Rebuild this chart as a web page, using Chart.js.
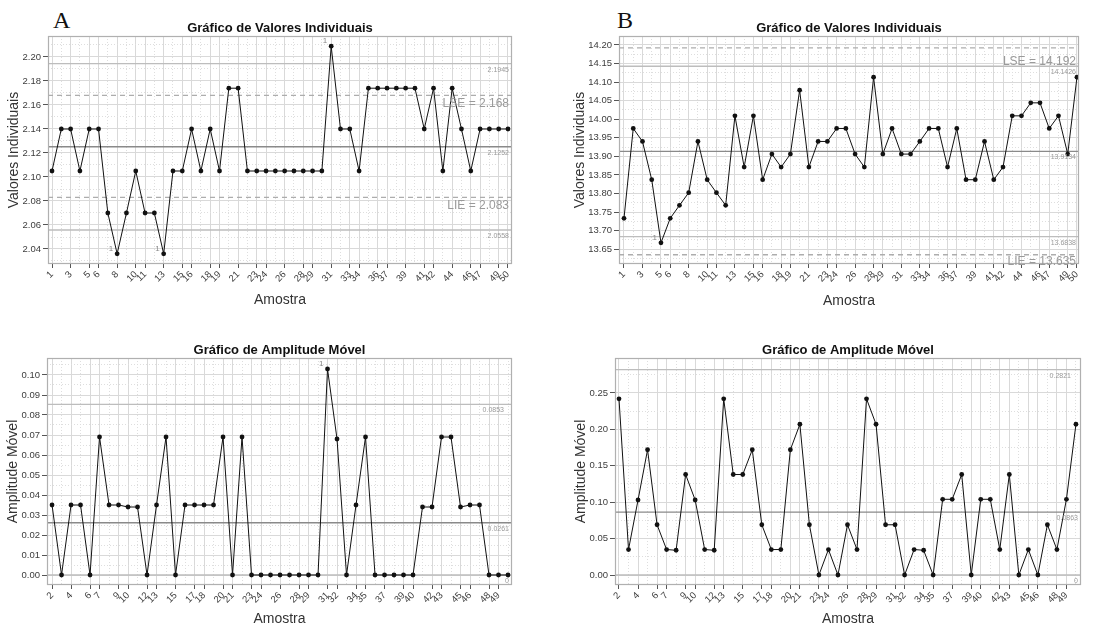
<!DOCTYPE html>
<html lang="pt">
<head>
<meta charset="utf-8">
<title>Gráficos de controle</title>
<script src="https://cdn.jsdelivr.net/npm/chart.js@4.4.1/dist/chart.umd.min.js"></script>
<style>
	body { margin: 0; background: #fff; width: 1119px; height: 628px; position: relative; overflow: hidden; }
	canvas { position: absolute; }
	.panel-letter { position: absolute; font-family: 'Liberation Serif', serif; font-size: 24px; color: #111; line-height: normal; }
</style>
</head>
<body>
<div class="panel-letter" style="left:53px; top:7px">A</div>
<div class="panel-letter" style="left:617px; top:7px">B</div>
<canvas id="chartIndA" width="560" height="310" style="left:0; top:0"></canvas>
<canvas id="chartIndB" width="559" height="310" style="left:560px; top:0"></canvas>
<canvas id="chartMrA" width="560" height="318" style="left:0; top:310px"></canvas>
<canvas id="chartMrB" width="559" height="318" style="left:560px; top:310px"></canvas>
<script>
'use strict'

// amostras (eixo x)
const samples = [1, 2, 3, 4, 5, 6, 7, 8, 9, 10, 11, 12, 13, 14, 15, 16, 17, 18, 19, 20, 21, 22, 23, 24, 25,
	26, 27, 28, 29, 30, 31, 32, 33, 34, 35, 36, 37, 38, 39, 40, 41, 42, 43, 44, 45, 46, 47, 48, 49, 50];
const mrSamples = [2, 3, 4, 5, 6, 7, 8, 9, 10, 11, 12, 13, 14, 15, 16, 17, 18, 19, 20, 21, 22, 23, 24, 25,
	26, 27, 28, 29, 30, 31, 32, 33, 34, 35, 36, 37, 38, 39, 40, 41, 42, 43, 44, 45, 46, 47, 48, 49, 50];

// valores individuais
const individualsA = [2.105, 2.140, 2.140, 2.105, 2.140, 2.140, 2.070, 2.036, 2.070, 2.105,
	2.070, 2.070, 2.036, 2.105, 2.105, 2.140, 2.105, 2.140, 2.105, 2.174,
	2.174, 2.105, 2.105, 2.105, 2.105, 2.105, 2.105, 2.105, 2.105, 2.105,
	2.209, 2.140, 2.140, 2.105, 2.174, 2.174, 2.174, 2.174, 2.174, 2.174,
	2.140, 2.174, 2.105, 2.174, 2.140, 2.105, 2.140, 2.140, 2.140, 2.140];
const individualsB = [13.733, 13.975, 13.940, 13.837, 13.667, 13.733, 13.768, 13.802, 13.940, 13.837,
	13.802, 13.768, 14.009, 13.871, 14.009, 13.837, 13.906, 13.871, 13.906, 14.078,
	13.871, 13.940, 13.940, 13.975, 13.975, 13.906, 13.871, 14.113, 13.906, 13.975,
	13.906, 13.906, 13.940, 13.975, 13.975, 13.871, 13.975, 13.837, 13.837, 13.940,
	13.837, 13.871, 14.009, 14.009, 14.044, 14.044, 13.975, 14.009, 13.906, 14.113];

// amplitudes moveis
const mrA = [0.035, 0, 0.035, 0.035, 0, 0.069, 0.035, 0.035, 0.034, 0.034,
	0, 0.035, 0.069, 0, 0.035, 0.035, 0.035, 0.035, 0.069, 0,
	0.069, 0, 0, 0, 0, 0, 0, 0, 0, 0.103,
	0.068, 0, 0.035, 0.069, 0, 0, 0, 0, 0, 0.034,
	0.034, 0.069, 0.069, 0.034, 0.035, 0.035, 0, 0, 0];
const mrB = [0.242, 0.035, 0.103, 0.172, 0.069, 0.035, 0.034, 0.138, 0.103, 0.035,
	0.034, 0.242, 0.138, 0.138, 0.172, 0.069, 0.035, 0.035, 0.172, 0.207,
	0.069, 0, 0.035, 0, 0.069, 0.035, 0.242, 0.207, 0.069, 0.069,
	0, 0.035, 0.034, 0, 0.104, 0.104, 0.138, 0, 0.104, 0.104,
	0.035, 0.138, 0, 0.035, 0, 0.069, 0.035, 0.104, 0.207];

// limites de controle [LSC, LC, LIC] e especificacao [LSE, LIE]
const limitsIndA = [2.1945, 2.1252, 2.0558];
const specsA = [2.168, 2.083];
const limitsMrA = [0.0853, 0.0261, 0];
const limitsIndB = [14.1426, 13.9134, 13.6838];
const specsB = [14.192, 13.635];
const limitsMrB = [0.2821, 0.0863, 0];

// rotulos dos eixos
const xTicksInd = [1, 3, 5, 6, 8, 10, 11, 13, 15, 16, 18, 19, 21, 23, 24, 26, 28, 29, 31, 33, 34, 36, 37, 39, 41, 42, 44, 46, 47, 49, 50];
const xTicksMr = [2, 4, 6, 7, 9, 10, 12, 13, 15, 17, 18, 20, 21, 23, 24, 26, 28, 29, 31, 32, 34, 35, 37, 39, 40, 42, 43, 45, 46, 48, 49];
const yTicksIndA = [2.04, 2.06, 2.08, 2.10, 2.12, 2.14, 2.16, 2.18, 2.20];
const yTicksMrA = [0, 0.01, 0.02, 0.03, 0.04, 0.05, 0.06, 0.07, 0.08, 0.09, 0.10];
const yTicksIndB = [13.65, 13.70, 13.75, 13.80, 13.85, 13.90, 13.95, 14.00, 14.05, 14.10, 14.15, 14.20];
const yTicksMrB = [0, 0.05, 0.10, 0.15, 0.20, 0.25];

Chart.defaults.font.family = "'Liberation Sans', Arial, sans-serif";

const colors = {
	series: '#111111',
	center: '#8a8a8a',
	limit: '#bdbdbd',
	spec: '#adadad',
	frame: '#b0b0b0',
	grid: '#d9d9d9',
	gridMinor: '#dedede',
	tick: '#3c3c3c',
	note: '#9a9a9a',
	title: '#111111',
	axisTitle: '#333333',
};

function isMinor(ctx) {
	return ctx.tick && ctx.tick.minor;
}

function withMinor(major, range) {
	const step = major[1] - major[0];
	let out = major.map(function (v) { return { value: v }; });
	[major[0] - step / 2].concat(major.map(function (v) { return v + step / 2; })).forEach(function (v) {
		if (v > range[0] && v < range[1]) out.push({ value: v, minor: true });
	});
	return out.sort(function (a, b) { return a.value - b.value; });
}

function makeChart(id, cfg) {
	const canvas = document.getElementById(id);
	const points = cfg.x.map(function (x, i) { return { x: x, y: cfg.y[i] }; });

	let datasets = [{
		data: points,
		borderColor: colors.series,
		backgroundColor: colors.series,
		borderWidth: 1,
		pointRadius: 2.4,
		pointBorderWidth: 0,
		pointBackgroundColor: colors.series,
		order: 0,
	}];
	cfg.lines.forEach(function (line) {
		datasets.push({
			data: [{ x: cfg.xRange[0], y: line.value }, { x: cfg.xRange[1], y: line.value }],
			borderColor: line.color,
			borderWidth: line.width || 1.4,
			borderDash: line.dash || [],
			pointRadius: 0,
			order: 1,
		});
	});

	const notes = {
		id: 'notes',
		afterDatasetsDraw: function (chart) {
			const c = chart.ctx;
			const area = chart.chartArea;
			const y = chart.scales.y;
			c.save();
			// moldura
			c.strokeStyle = colors.frame;
			c.lineWidth = 1.2;
			c.strokeRect(area.left + 0.5, area.top + 0.5, area.right - area.left - 1, area.bottom - area.top - 1);
			// titulo
			c.fillStyle = colors.title;
			c.font = "bold 13px 'Liberation Sans', Arial, sans-serif";
			c.textAlign = 'center';
			c.textBaseline = 'middle';
			c.fillText(cfg.title, (area.left + area.right) / 2, area.top - 8);
			// rotulos das linhas de controle
			c.textAlign = 'right';
			cfg.labels.forEach(function (lab) {
				c.fillStyle = colors.note;
				c.font = lab.size + "px 'Liberation Sans', Arial, sans-serif";
				c.fillText(lab.text, area.right - (lab.inset || 3), y.getPixelForValue(lab.value) + lab.dy);
			});
			// pontos fora de controle
			c.font = "8px 'Liberation Sans', Arial, sans-serif";
			c.fillStyle = '#8a8a8a';
			const meta = chart.getDatasetMeta(0);
			cfg.y.forEach(function (v, i) {
				if (v > cfg.limits[0] || v < cfg.limits[2]) {
					const el = meta.data[i];
					c.fillText('1', el.x - 4, el.y - 5);
				}
			});
			c.restore();
		},
	};

	return new Chart(canvas, {
		type: 'line',
		data: { datasets: datasets },
		options: {
			responsive: false,
			animation: false,
			events: [],
			layout: {
				padding: { left: 0, top: cfg.area.top, right: canvas.width - cfg.area.right, bottom: 0 },
			},
			plugins: {
				legend: { display: false },
				tooltip: { enabled: false },
			},
			scales: {
				x: {
					type: 'linear',
					min: cfg.xRange[0],
					max: cfg.xRange[1],
					afterBuildTicks: function (scale) {
						scale.ticks = cfg.x.map(function (v) { return { value: v, minor: cfg.xShown.indexOf(v) < 0 }; });
					},
					afterFit: function (scale) {
						scale.height = canvas.height - cfg.area.bottom;
					},
					ticks: {
						autoSkip: false,
						minRotation: 45,
						maxRotation: 45,
						padding: 1,
						color: colors.tick,
						font: { size: 9.5 },
						callback: function (v, i, t) { return t[i].minor ? '' : String(v); },
					},
					grid: {
						color: function (ctx) { return isMinor(ctx) ? colors.gridMinor : colors.grid; },
						tickColor: function (ctx) { return isMinor(ctx) ? 'rgba(0,0,0,0)' : '#555'; },
						tickLength: 4,
					},
					border: {
						display: false,
						dash: function (ctx) { return isMinor(ctx) ? [1, 2] : []; },
					},
					title: {
						display: true,
						text: 'Amostra',
						color: colors.axisTitle,
						font: { size: 14 },
						padding: { top: 0, bottom: cfg.xTitlePad },
					},
				},
				y: {
					min: cfg.yRange[0],
					max: cfg.yRange[1],
					afterBuildTicks: function (scale) {
						scale.ticks = withMinor(cfg.yTicks, cfg.yRange);
					},
					afterFit: function (scale) {
						scale.width = cfg.area.left;
					},
					ticks: {
						autoSkip: false,
						padding: 2,
						color: colors.tick,
						font: { size: 9.5 },
						callback: function (v, i, t) { return t[i].minor ? '' : v.toFixed(2); },
					},
					grid: {
						color: function (ctx) { return isMinor(ctx) ? colors.gridMinor : colors.grid; },
						tickColor: function (ctx) { return isMinor(ctx) ? 'rgba(0,0,0,0)' : '#555'; },
						tickLength: 5,
					},
					border: {
						display: false,
						dash: function (ctx) { return isMinor(ctx) ? [1, 2] : []; },
					},
					title: {
						display: true,
						text: cfg.yTitle,
						color: colors.axisTitle,
						font: { size: 14 },
						padding: { top: cfg.yTitlePad, bottom: 0 },
					},
				},
			},
		},
		plugins: [notes],
	});
}

function limitText(v) {
	return v === 0 ? '0' : v.toFixed(4);
}

let chartIndA = makeChart('chartIndA', {
	title: 'Gráfico de Valores Individuais',
	yTitle: 'Valores Individuais',
	x: samples,
	y: individualsA,
	xShown: xTicksInd,
	yTicks: yTicksIndA,
	xRange: [0.57, 50.43],
	yRange: [2.0275, 2.2175],
	area: { left: 48, top: 36, right: 512, bottom: 264 },
	yTitlePad: 5.6,
	xTitlePad: 1.6,
	limits: limitsIndA,
	lines: [
		{ value: limitsIndA[0], color: colors.limit },
		{ value: limitsIndA[1], color: colors.center },
		{ value: limitsIndA[2], color: colors.limit },
		{ value: specsA[0], color: colors.spec, dash: [5, 4] },
		{ value: specsA[1], color: colors.spec, dash: [5, 4] },
	],
	labels: [
		{ value: limitsIndA[0], text: limitText(limitsIndA[0]), size: 7, dy: 6 },
		{ value: limitsIndA[1], text: limitText(limitsIndA[1]), size: 7, dy: 6 },
		{ value: limitsIndA[2], text: limitText(limitsIndA[2]), size: 7, dy: 6 },
		{ value: specsA[0], text: 'LSE = ' + specsA[0], size: 12, dy: 8 },
		{ value: specsA[1], text: 'LIE = ' + specsA[1], size: 12, dy: 8 },
	],
});

let chartIndB = makeChart('chartIndB', {
	title: 'Gráfico de Valores Individuais',
	yTitle: 'Valores Individuais',
	x: samples,
	y: individualsB,
	xShown: xTicksInd,
	yTicks: yTicksIndB,
	xRange: [0.46, 50.22],
	yRange: [13.610, 14.224],
	area: { left: 59, top: 36, right: 519, bottom: 264 },
	yTitlePad: 11.6,
	xTitlePad: 0,
	limits: limitsIndB,
	lines: [
		{ value: limitsIndB[0], color: colors.limit },
		{ value: limitsIndB[1], color: colors.center },
		{ value: limitsIndB[2], color: colors.limit },
		{ value: specsB[0], color: colors.spec, dash: [5, 4] },
		{ value: specsB[1], color: colors.spec, dash: [5, 4] },
	],
	labels: [
		{ value: limitsIndB[0], text: limitText(limitsIndB[0]), size: 7, dy: 6 },
		{ value: limitsIndB[1], text: limitText(limitsIndB[1]), size: 7, dy: 6 },
		{ value: limitsIndB[2], text: limitText(limitsIndB[2]), size: 7, dy: 6 },
		{ value: specsB[0], text: 'LSE = ' + specsB[0], size: 12, dy: 14 },
		{ value: specsB[1], text: 'LIE = ' + specsB[1], size: 12, dy: 7 },
	],
});

let chartMrA = makeChart('chartMrA', {
	title: 'Gráfico de Amplitude Móvel',
	yTitle: 'Amplitude Móvel',
	x: mrSamples,
	y: mrA,
	xShown: xTicksMr,
	yTicks: yTicksMrA,
	xRange: [1.47, 50.42],
	yRange: [-0.005, 0.1085],
	area: { left: 47, top: 48, right: 512, bottom: 275 },
	yTitlePad: 4.6,
	xTitlePad: 0,
	limits: limitsMrA,
	lines: [
		{ value: limitsMrA[0], color: colors.limit },
		{ value: limitsMrA[1], color: colors.center },
		{ value: limitsMrA[2], color: colors.limit },
	],
	labels: [
		{ value: limitsMrA[0], text: limitText(limitsMrA[0]), size: 7, dy: 6, inset: 8 },
		{ value: limitsMrA[1], text: limitText(limitsMrA[1]), size: 7, dy: 6 },
		{ value: limitsMrA[2], text: limitText(limitsMrA[2]), size: 7, dy: 6 },
	],
});

let chartMrB = makeChart('chartMrB', {
	title: 'Gráfico de Amplitude Móvel',
	yTitle: 'Amplitude Móvel',
	x: mrSamples,
	y: mrB,
	xShown: xTicksMr,
	yTicks: yTicksMrB,
	xRange: [1.58, 50.53],
	yRange: [-0.0137, 0.298],
	area: { left: 55, top: 48, right: 521, bottom: 275 },
	yTitlePad: 12.6,
	xTitlePad: 0,
	limits: limitsMrB,
	lines: [
		{ value: limitsMrB[0], color: colors.limit },
		{ value: limitsMrB[1], color: colors.center },
		{ value: limitsMrB[2], color: colors.limit },
	],
	labels: [
		{ value: limitsMrB[0], text: limitText(limitsMrB[0]), size: 7, dy: 6, inset: 10 },
		{ value: limitsMrB[1], text: limitText(limitsMrB[1]), size: 7, dy: 6 },
		{ value: limitsMrB[2], text: limitText(limitsMrB[2]), size: 7, dy: 6 },
	],
});
</script>
</body>
</html>
